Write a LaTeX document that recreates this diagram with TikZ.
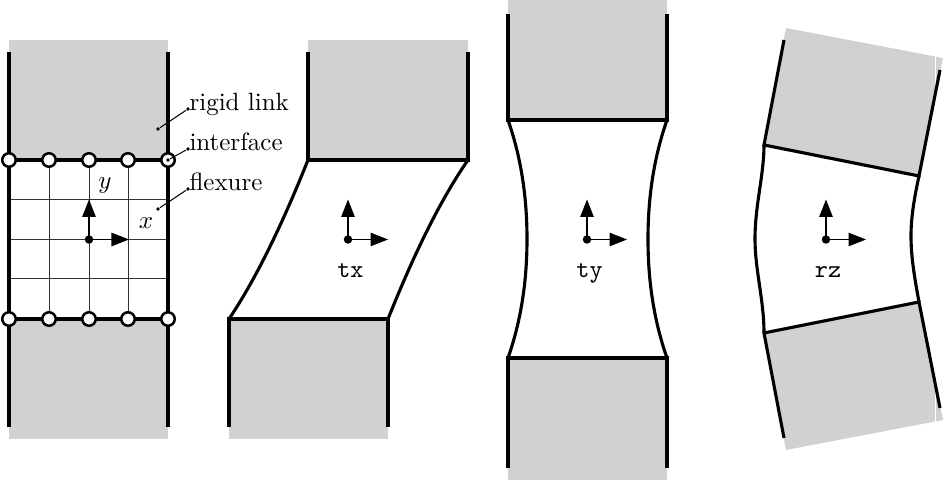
\documentclass[tikz,border=0pt]{standalone}
\usetikzlibrary{arrows.meta}
\definecolor{linkgray}{gray}{0.82}
\tikzset{
  x=0.4pt,y=-0.4pt,
  rigid/.style={fill=linkgray,draw=none},
  outline/.style={line width=1.25pt,line join=miter},
  flex/.style={line width=1.25pt},
  gridline/.style={line width=0.4pt,draw=black!80},
  joint/.style={circle,draw=black,fill=white,line width=1pt,minimum size=5.4pt,inner sep=0pt},
  axisline/.style={line width=0.45pt,-{Triangle[length=7pt,width=5.4pt]}},
  origin/.style={circle,fill=black,minimum size=3.4pt,inner sep=0pt},
  leader/.style={line width=0.4pt},
  tick/.style={circle,fill=black,minimum size=1.5pt,inner sep=0pt},
  lab/.style={inner sep=0pt,anchor=base west},
  code/.style={inner sep=0pt,anchor=base,font=\ttfamily},
}
\newcommand{\axes}[2]{%
  \node[origin] (o#1) at #2 {};
  \path (o#1) ++(0,-40) coordinate (oy#1) (o#1) ++(40,0) coordinate (ox#1);
  \draw[axisline] (o#1.center) -- (oy#1);
  \draw[axisline] (o#1.center) -- (ox#1);
}
\begin{document}
\begin{tikzpicture}
\useasboundingbox (0,0) rectangle (949,484);
% panel 1
\fill[rigid] (9,40) rectangle (168,160);
\fill[rigid] (9,319) rectangle (168,439);
\foreach \gx in {49,89,128} \draw[gridline] (\gx,160) -- (\gx,319);
\foreach \gy in {199.5,239.5,279} \draw[gridline] (9,\gy) -- (168,\gy);
\draw[outline] (9,52) -- (9,427);
\draw[outline] (168,52) -- (168,427);
\draw[outline] (9,160) -- (168,160);
\draw[outline] (9,319) -- (168,319);
\foreach \n/\jx in {a/9,b/49,c/89,d/128,e/168}{
  \node[joint] (t\n) at (\jx,160) {};
  \node[joint] (u\n) at (\jx,319) {};
}
\axes{A}{(89,239.5)}
\node[inner sep=0pt] (ylab) at (105,186) {$y$};
\node[inner sep=0pt] (xlab) at (146,223) {$x$};
\node[lab] (lr) at (189,111) {rigid link};
\node[lab] (li) at (189,151) {interface};
\node[lab] (lf) at (189,191) {flexure};
\node[tick] (p1) at (158,129) {};
\node[tick] (p2) at (168,160) {};
\node[tick] (p3) at (158,209) {};
\node[tick] (q1) at (188,109) {};
\node[tick] (q2) at (188,149) {};
\node[tick] (q3) at (188,189) {};
\draw[leader] (p1) -- (q1);
\draw[leader] (p2) -- (q2);
\draw[leader] (p3) -- (q3);
% panel 2
\fill[rigid] (308,40) rectangle (468,160);
\fill[rigid] (229,319) rectangle (388,439);
\draw[outline] (308,52) -- (308,160) -- (468,160) -- (468,52);
\draw[outline] (229,427) -- (229,319) -- (388,319) -- (388,427);
\draw[flex] (308,160) .. controls (290,205) and (262,270) .. (229,319);
\draw[flex] (468,160) .. controls (434,209) and (406,274) .. (388,319);
\axes{B}{(348,239.5)}
\node[code] (tx) at (350.5,278) {tx};
% panel 3
\fill[rigid] (508,0) rectangle (667,120);
\fill[rigid] (508,358) rectangle (667,480);
\draw[outline] (508,14) -- (508,120) -- (667,120) -- (667,14);
\draw[outline] (508,468) -- (508,358) -- (667,358) -- (667,468);
\draw[flex] (508,120) .. controls (522,160) and (527,200) .. (527,239) .. controls (527,278) and (522,318) .. (508,358);
\draw[flex] (667,120) .. controls (653,160) and (648,200) .. (648,239) .. controls (648,278) and (653,318) .. (667,358);
\axes{C}{(587,239.5)}
\node[code] (ty) at (589.5,278) {ty};
% panel 4
\fill[rigid] (786,28) -- (943,58) -- (919,176) -- (764,145) -- cycle;
\fill[rigid] (786,450) -- (943,420) -- (919,302) -- (764,333) -- cycle;
\fill[white] (934.5,57) rectangle (935.5,100);
\fill[white] (934.5,372) rectangle (935.5,423);
\draw[outline] (784,40) -- (764,145) -- (919,176) -- (940,70);
\draw[outline] (784,438) -- (764,333) -- (919,302) -- (940,408);
\draw[flex] (764,145) .. controls (764,175) and (755,205) .. (755,239) .. controls (755,270) and (764,300) .. (764,333);
\draw[flex] (919,176) .. controls (915,195) and (911,215) .. (911,236) .. controls (911,258) and (915,280) .. (919,302);
\axes{D}{(826,239.5)}
\node[code] (rz) at (828,278) {rz};
\end{tikzpicture}
\end{document}
